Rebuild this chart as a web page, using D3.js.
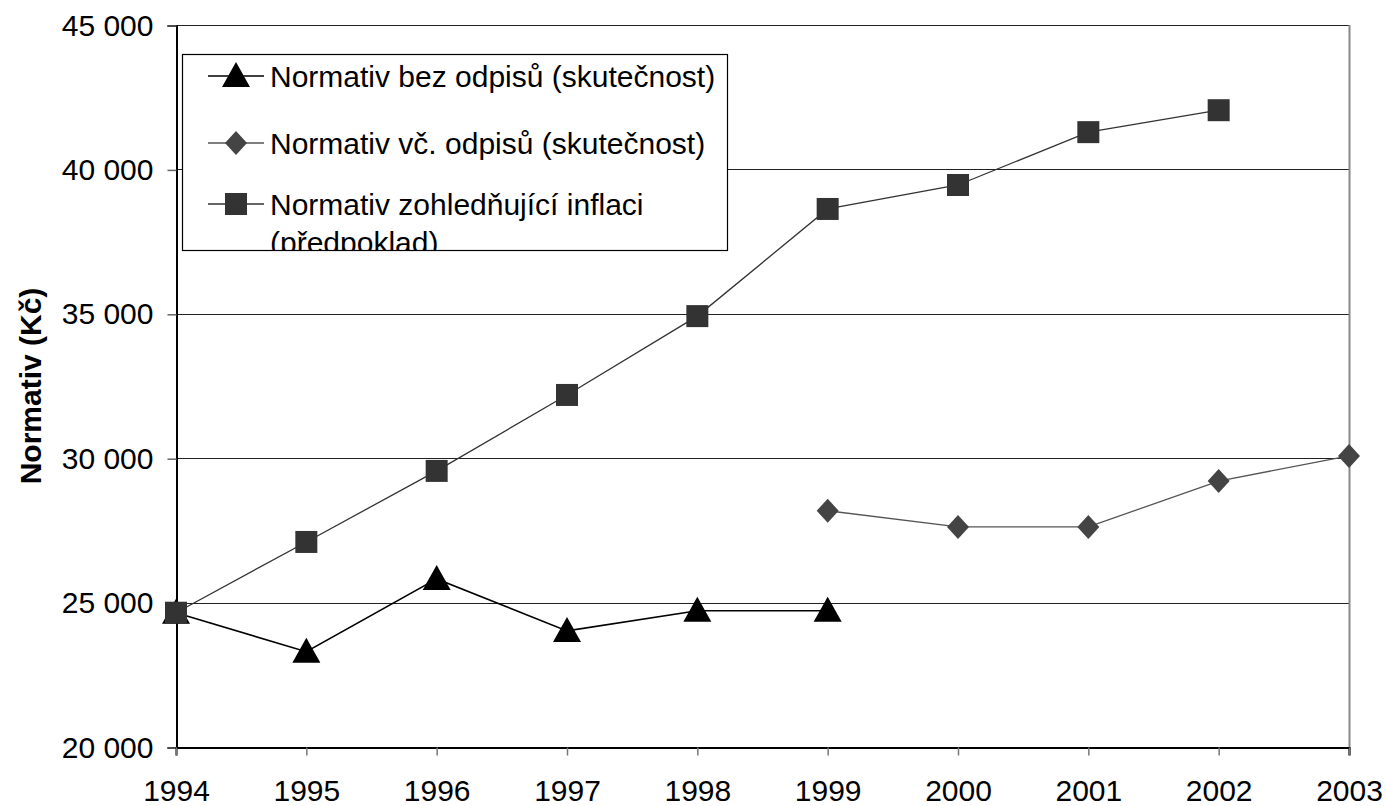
<!DOCTYPE html>
<meta charset="utf-8">
<style>
body { margin: 0; background: #fff; font-family: 'Liberation Sans', Arial, sans-serif; }
.tick text { font-size: 30px; fill: #000; font-family: 'Liberation Sans', Arial, sans-serif; }
</style>
<body>
<script src="https://d3js.org/d3.v7.min.js"></script>
<script>
var width = 1386,
    height = 806;

// data
var years = [1994, 1995, 1996, 1997, 1998, 1999, 2000, 2001, 2002, 2003];
var bezOdpisu = [24650, 23300, 25820, 24020, 24720, 24720, null, null, null, null];
var vcOdpisu = [null, null, null, null, null, 28180, 27620, 27620, 29210, 30080];
var inflace = [24650, 27100, 29560, 32190, 34920, 38630, 39460, 41290, 42050, null];
var yTicks = [20000, 25000, 30000, 35000, 40000, 45000];
var legendLabels = [
  ["Normativ bez odpisů (skutečnost)"],
  ["Normativ vč. odpisů (skutečnost)"],
  ["Normativ zohledňující inflaci", "(předpoklad)"]
];

var plotL = 176, plotR = 1349, plotT = 25, plotB = 747;

var x = d3.scaleLinear().domain([1994, 2003]).range([plotL, plotR]);
var y = d3.scaleLinear().domain([20000, 45000]).range([plotB, plotT]);

var svg = d3.select("body").append("svg")
    .attr("width", width)
    .attr("height", height);

// gridlines
svg.append("g")
  .selectAll("line")
  .data(yTicks.slice(1))
  .join("line")
    .attr("x1", plotL).attr("x2", plotR)
    .attr("y1", d => Math.round(y(d)) + 0.5)
    .attr("y2", d => Math.round(y(d)) + 0.5)
    .attr("stroke", "#222")
    .attr("stroke-width", 1);

// right border of plot area
svg.append("line")
    .attr("x1", plotR + 0.5).attr("x2", plotR + 0.5)
    .attr("y1", plotT).attr("y2", plotB + 8)
    .attr("stroke", "#888").attr("stroke-width", 2);

// axes
var yAxis = svg.append("g")
    .attr("transform", "translate(" + (plotL + 0.5) + ",0.5)")
    .call(d3.axisLeft(y).tickValues(yTicks).tickSize(9).tickPadding(14)
      .tickFormat(d => d3.format(",")(d).replace(",", " ")));
yAxis.select(".domain").attr("stroke", "#000").attr("stroke-width", 2);
yAxis.selectAll(".tick line").attr("stroke", "#666").attr("stroke-width", 1.5);

var xAxis = svg.append("g")
    .attr("transform", "translate(0," + (plotB + 0.5) + ")")
    .call(d3.axisBottom(x).tickValues(years).tickSize(8).tickPadding(24).tickFormat(d3.format("d")));
xAxis.select(".domain").attr("stroke", "#000").attr("stroke-width", 2);
xAxis.selectAll(".tick line").attr("stroke", "#777").attr("stroke-width", 1.5);

// y axis title
svg.append("text")
    .attr("transform", "translate(41,386) rotate(-90)")
    .attr("text-anchor", "middle")
    .style("font-size", "30px")
    .style("font-weight", "bold")
    .text("Normativ (Kč)");

var series = [
  { values: bezOdpisu, shape: "tri", color: "#000", line: "#000", lw: 1.6 },
  { values: vcOdpisu, shape: "dia", color: "#444", line: "#555", lw: 1.3 },
  { values: inflace, shape: "sq", color: "#333", line: "#333", lw: 1.3 }
];

function markerPath(shape) {
  if (shape == "tri") return "M0,-14L14,11L-14,11Z";
  if (shape == "dia") return "M0,-12L11,0L0,12L-11,0Z";
  return "M-11,-11L11,-11L11,11L-11,11Z";
}

var line = d3.line()
    .defined(d => d.v != null)
    .x(d => x(d.year))
    .y(d => y(d.v));

series.forEach(s => {
  var pts = years.map((yr, i) => ({ year: yr, v: s.values[i] }));
  svg.append("path")
    .datum(pts)
    .attr("fill", "none")
    .attr("stroke", s.line)
    .attr("stroke-width", s.lw)
    .attr("d", line);
  svg.append("g")
    .selectAll("path")
    .data(pts.filter(d => d.v != null))
    .join("path")
      .attr("transform", d => "translate(" + x(d.year) + "," + y(d.v) + ")")
      .attr("d", markerPath(s.shape))
      .attr("fill", s.color);
});

// legend
var lg = svg.append("g");
svg.append("clipPath").attr("id", "legclip")
  .append("rect").attr("x", 182).attr("y", 55).attr("width", 545).attr("height", 196);
lg.append("rect")
    .attr("x", 182.5).attr("y", 54.5)
    .attr("width", 545).attr("height", 196)
    .attr("fill", "#fff")
    .attr("stroke", "#000")
    .attr("stroke-width", 1.2);
var rowsY = [76, 143, 204];
var inner = lg.append("g").attr("clip-path", "url(#legclip)");
series.forEach((s, i) => {
  var ry = rowsY[i];
  inner.append("line")
    .attr("x1", 208).attr("x2", 264)
    .attr("y1", ry).attr("y2", ry)
    .attr("stroke", s.line).attr("stroke-width", s.lw);
  inner.append("path")
    .attr("transform", "translate(236," + ry + ")")
    .attr("d", markerPath(s.shape))
    .attr("fill", s.color);
  legendLabels[i].forEach((t, j) => {
    inner.append("text")
      .attr("x", 270)
      .attr("y", ry + j * 38)
      .attr("dy", "0.35em")
      .style("font-size", "30px")
      .text(t);
  });
});
</script>
</body>
